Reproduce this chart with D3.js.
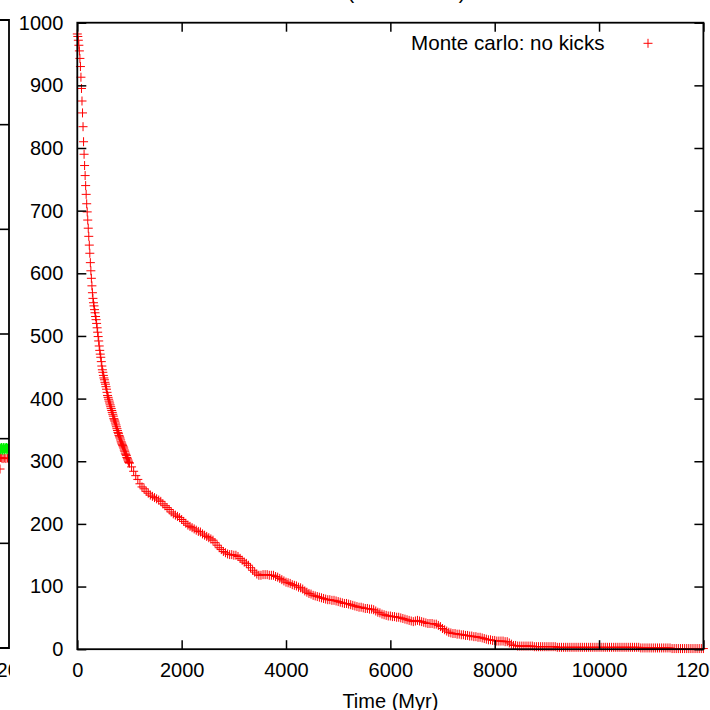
<!DOCTYPE html>
<html>
<head>
<meta charset="utf-8">
<script src="https://cdn.jsdelivr.net/npm/d3@7"></script>
<style>
  html, body { margin: 0; padding: 0; background: #fff; }
  svg { display: block; font-family: "Liberation Sans", Arial, Helvetica, sans-serif; }
</style>
</head>
<body>
<script>
// Surviving stars N(t), Monte carlo run without kicks.
// Early samples: every 10 Myr from 0 to 1000 Myr.
const earlyStart = 0, earlyStep = 10;
const earlyCounts = [
  982, 978, 972, 964, 955, 943, 930, 913, 895, 875,
  856, 834, 810, 790, 772, 756, 740, 726, 711, 698,
  685, 672, 659, 645, 632, 617, 604, 592, 580, 569,
  560, 553, 548, 542, 537, 531, 526, 520, 513, 506,
  499, 492, 484, 477, 471, 466, 459, 452, 446, 442,
  437, 433, 430, 426, 423, 419, 415, 410, 405, 402,
  399, 396, 393, 390, 387, 384, 381, 378, 375, 372,
  368, 366, 364, 361, 358, 355, 352, 349, 346, 344,
  341, 339, 337, 334, 331, 329, 327, 325, 323, 321,
  318, 316, 313, 311, 309, 306, 304, 302, 300, 298,
  297
];
// Later samples: every 40 Myr from 1040 to 12000 Myr.
const lateStart = 1040, lateStep = 40;
const lateCounts = [
  291, 284, 277, 271, 264, 259, 256, 252, 249, 246, 244, 242, 240, 238, 236, 232, 229, 226, 223, 219, 216, 214, 212, 210, 207,
  204, 201, 198, 196, 194, 192, 190, 188, 187, 184, 182, 180, 178, 176, 174, 170, 166, 162, 159, 156, 154, 152, 151, 151, 150,
  150, 148, 145, 142, 139, 137, 134, 130, 126, 123, 120, 118, 118, 119, 119, 119, 118, 118, 118, 116, 115, 113, 111, 109, 107,
  106, 105, 103, 102, 101, 99, 98, 96, 93, 91, 89, 88, 86, 85, 84, 83, 82, 81, 80, 79, 79, 78, 78, 77, 76,
  75, 74, 73, 73, 72, 71, 70, 69, 68, 67, 67, 66, 65, 65, 64, 64, 63, 61, 59, 58, 56, 55, 54, 53, 53,
  52, 52, 51, 51, 50, 49, 48, 47, 46, 45, 44, 45, 46, 45, 44, 43, 42, 41, 41, 41, 40, 40, 38, 36, 33,
  31, 29, 27, 26, 25, 25, 24, 24, 23, 23, 22, 22, 21, 21, 20, 20, 19, 19, 18, 17, 16, 15, 15, 14, 14,
  13, 13, 13, 13, 12, 12, 10, 8, 6, 6, 5, 5, 5, 5, 5, 5, 5, 5, 4, 4, 4, 4, 4, 4, 4,
  4, 4, 4, 4, 3, 3, 3, 3, 3, 3, 3, 3, 3, 3, 3, 3, 3, 3, 3, 3, 3, 3, 3, 3, 3,
  3, 3, 3, 3, 3, 3, 3, 3, 3, 3, 3, 3, 3, 3, 3, 3, 3, 3, 3, 2, 2, 2, 2, 2, 2,
  2, 2, 2, 2, 2, 2, 2, 2, 2, 1, 1, 1, 1, 1, 1, 1, 1, 1, 1, 1, 1, 1, 1, 1, 1
];

const xTicks = [0, 2000, 4000, 6000, 8000, 10000, 12000];
const yTicks = [0, 100, 200, 300, 400, 500, 600, 700, 800, 900, 1000];
const seriesLabel = "Monte carlo: no kicks";
const titleText = "(Monte carlo)";
const xLabel = "Time (Myr)";

// Neighbouring panel (only its right edge is in view).
const leftTicksY = [0, 200, 400, 600, 800, 1000, 1200];
const leftGreen = [
  [11820, 380], [11830, 382], [11840, 379], [11850, 381], [11860, 383], [11870, 380], [11880, 378], [11890, 381],
  [11900, 383], [11910, 380], [11920, 379], [11930, 382], [11940, 381], [11950, 383], [11960, 379], [11970, 381],
  [11980, 382], [11990, 380], [12000, 381]
];
const leftRed = [[11828, 342], [11835, 364], [11860, 363], [11885, 362], [11910, 363], [11940, 362], [11970, 363], [11995, 362]];
const leftEdgeLabel = "12000";

const W = 710, H = 710;
const svg = d3.select("body").append("svg").attr("width", W).attr("height", H);

const x = d3.scaleLinear().domain([0, 12000]).range([77.3, 703.4]);
const y = d3.scaleLinear().domain([0, 1000]).range([649.2, 22.7]);

const points = earlyCounts.map((n, i) => ({ t: earlyStart + i * earlyStep, n }))
  .concat(lateCounts.map((n, i) => ({ t: lateStart + i * lateStep, n })));

const ARM = 4.5;
const crossPath = (cx, cy) => `M${cx - ARM},${cy}h${2 * ARM}M${cx},${cy - ARM}v${2 * ARM}`;

// ---- neighbouring panel -------------------------------------------------
const lx = d3.scaleLinear().domain([0, 12000]).range([9 - 626, 9]);
const ly = d3.scaleLinear().domain([0, 1200]).range([648, 20]);
const defs = svg.append("defs");
defs.append("clipPath").attr("id", "leftPlotClip")
  .append("rect").attr("x", lx(0)).attr("y", ly(1200))
  .attr("width", lx(12000) - lx(0)).attr("height", ly(0) - ly(1200));
defs.append("clipPath").attr("id", "leftClip")
  .append("rect").attr("x", 0).attr("y", 0).attr("width", 10).attr("height", H);

const left = svg.append("g");
const leftData = left.append("g").attr("clip-path", "url(#leftPlotClip)");
leftData.append("g").selectAll("path").data(leftRed).join("path")
  .attr("d", d => crossPath(lx(d[0]), ly(d[1])))
  .attr("fill", "none").attr("stroke", "#ff0000").attr("stroke-width", 1);
leftData.append("g").selectAll("path").data(leftGreen).join("path")
  .attr("d", d => crossPath(lx(d[0]), ly(d[1])))
  .attr("fill", "none").attr("stroke", "#00f000").attr("stroke-width", 1.4);
left.append("g").selectAll("line").data(leftTicksY.slice(1, -1)).join("line")
  .attr("x1", lx(12000) - 9).attr("x2", lx(12000))
  .attr("y1", d => ly(d)).attr("y2", d => ly(d))
  .attr("stroke", "#000").attr("stroke-width", 1.6);
left.append("path")
  .attr("d", `M${lx(11500)},${ly(1200)}H${lx(12000)}V${ly(0)}H${lx(11500)}`)
  .attr("fill", "none").attr("stroke", "#000").attr("stroke-width", 1.8);
left.append("text")
  .attr("clip-path", "url(#leftClip)")
  .attr("x", lx(12000) - 23.5).attr("y", 677)
  .attr("font-size", 20).attr("fill", "#000")
  .text(leftEdgeLabel);

// ---- main panel: data ---------------------------------------------------
svg.append("g").selectAll("path").data(points).join("path")
  .attr("d", d => crossPath(x(d.t), y(d.n)))
  .attr("fill", "none").attr("stroke", "#ff0000").attr("stroke-width", 1);

// ---- axes -----------------------------------------------------------------
const fontSize = 20;
const gx = svg.append("g").attr("transform", `translate(0,${y(0)})`)
  .call(d3.axisBottom(x).tickValues(xTicks).tickSizeInner(-9).tickSizeOuter(0).tickPadding(14).tickFormat(d3.format("d")));
const gy = svg.append("g").attr("transform", `translate(${x(0)},0)`)
  .call(d3.axisLeft(y).tickValues(yTicks).tickSizeInner(-9).tickSizeOuter(0).tickPadding(14).tickFormat(d3.format("d")));
const gxTop = svg.append("g").attr("transform", `translate(0,${y(1000)})`)
  .call(d3.axisTop(x).tickValues(xTicks).tickSizeInner(-9).tickSizeOuter(0).tickFormat(""));
const gyRight = svg.append("g").attr("transform", `translate(${x(12000)},0)`)
  .call(d3.axisRight(y).tickValues(yTicks).tickSizeInner(-9).tickSizeOuter(0).tickFormat(""));

[gx, gy, gxTop, gyRight].forEach(g => {
  g.select(".domain").remove();
  g.selectAll(".tick line").attr("stroke", "#000").attr("stroke-width", 1.5);
  g.selectAll(".tick text").attr("font-size", fontSize).attr("fill", "#000")
    .attr("font-family", "'Liberation Sans', Arial, Helvetica, sans-serif");
});

// frame
svg.append("rect")
  .attr("x", x(0)).attr("y", y(1000))
  .attr("width", x(12000) - x(0)).attr("height", y(0) - y(1000))
  .attr("fill", "none").attr("stroke", "#000").attr("stroke-width", 1.8);

// ---- title, axis label, key ----------------------------------------------
svg.append("text").attr("x", 406.5).attr("y", -1.5)
  .attr("text-anchor", "middle").attr("font-size", fontSize).attr("fill", "#000")
  .text(titleText);

svg.append("text").attr("x", (x(0) + x(12000)) / 2).attr("y", 707.5)
  .attr("text-anchor", "middle").attr("font-size", fontSize).attr("fill", "#000")
  .text(xLabel);

const key = svg.append("g");
key.append("text").attr("x", 604.5).attr("y", 50)
  .attr("text-anchor", "end").attr("font-size", 20.6).attr("fill", "#000")
  .text(seriesLabel);
key.append("path").attr("d", crossPath(648, 43.3))
  .attr("fill", "none").attr("stroke", "#ff0000").attr("stroke-width", 1);
</script>
</body>
</html>
